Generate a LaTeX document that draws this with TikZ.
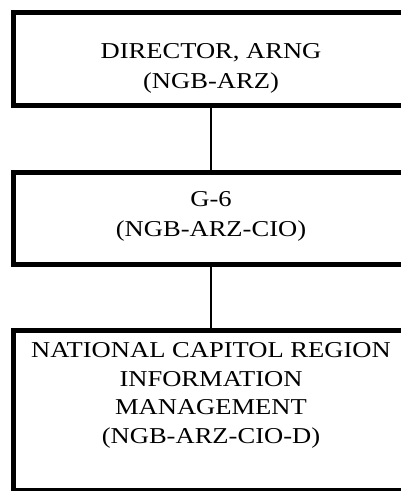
\documentclass[tikz,border=0pt]{standalone}
\usepackage{fontspec}
\setmainfont{Liberation Serif}[FakeStretch=1.17]
\begin{document}
\begin{tikzpicture}[x=1pt,y=-1pt,
  orgbox/.style={draw=black, line width=4.5pt, rectangle, inner sep=0pt,
    minimum width=395.75pt},
  boxtext/.style={align=center, inner sep=0pt, anchor=base,
    font=\fontsize{22.7}{30}\selectfont},
  link/.style={draw=black, line width=2pt}]
\useasboundingbox (0,0) rectangle (401,491);
\clip (0,0) rectangle (401,491);
% three stacked boxes; right sides run past the page edge
\node[orgbox, minimum height=93pt] (director) at (211.125,59) {};
\node[orgbox, minimum height=92pt] (gsix) at (211.125,218.5) {};
\node[orgbox, minimum height=160pt] (ncr) at (211.125,410.5) {};
% box texts (base anchor = baseline of the last line)
\node[boxtext] (directortext) at (211,88) {DIRECTOR, ARNG\\(NGB-ARZ)};
\node[boxtext] (gsixtext) at (211,236.7) {G-6\\(NGB-ARZ-CIO)};
\node[boxtext, font=\fontsize{22.7}{28.4}\selectfont] (ncrtext) at (211,443)
  {NATIONAL CAPITOL REGION\\INFORMATION\\MANAGEMENT\\(NGB-ARZ-CIO-D)};
% connectors
\draw[link] (director.south -| directortext.base) -- (gsix.north -| directortext.base);
\draw[link] (gsix.south -| gsixtext.base) -- (ncr.north -| gsixtext.base);
\end{tikzpicture}
\end{document}
